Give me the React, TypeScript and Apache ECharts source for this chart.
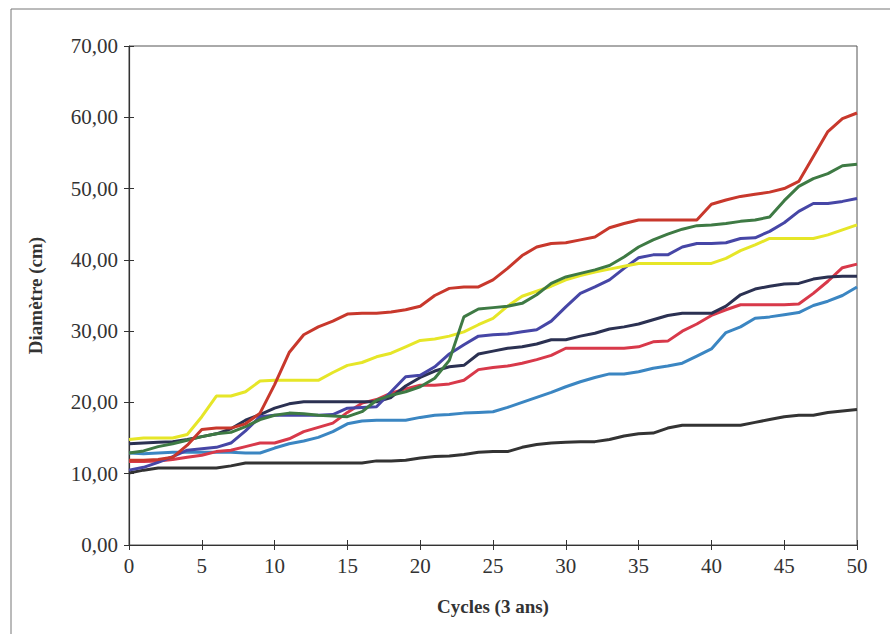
import React, { useEffect, useRef } from "react";
import * as echarts from "echarts";

const cycles: number[] = Array.from({ length: 51 }, (_, i) => i);

const redDark = [11.9,11.9,12.0,12.3,14.0,16.2,16.4,16.4,17.0,18.5,22.5,27.0,29.5,30.6,31.4,32.4,32.5,32.5,32.7,33.0,33.5,35.0,36.0,36.2,36.2,37.2,38.8,40.6,41.8,42.3,42.4,42.8,43.2,44.5,45.1,45.6,45.6,45.6,45.6,45.6,47.8,48.4,48.9,49.2,49.5,50.0,51.0,54.5,58.0,59.8,60.6];
const yellow = [14.8,15.0,15.0,15.0,15.5,18.0,20.9,20.9,21.5,23.0,23.1,23.1,23.1,23.1,24.2,25.2,25.6,26.4,26.9,27.8,28.7,28.9,29.3,29.9,30.9,31.8,33.5,34.9,35.6,36.3,37.2,37.8,38.3,38.7,39.1,39.5,39.5,39.5,39.5,39.5,39.5,40.2,41.3,42.1,43.0,43.0,43.0,43.0,43.5,44.2,44.9];
const green = [12.9,13.2,13.8,14.2,14.7,15.2,15.6,15.8,16.6,17.6,18.2,18.5,18.4,18.2,18.1,18.0,18.7,20.3,21.0,21.5,22.2,23.4,25.9,32.0,33.1,33.3,33.5,33.9,35.1,36.7,37.6,38.1,38.6,39.2,40.4,41.8,42.8,43.6,44.3,44.8,44.9,45.1,45.4,45.6,46.0,48.3,50.3,51.4,52.1,53.2,53.4];
const blue = [10.5,10.9,11.6,12.4,13.3,13.5,13.7,14.3,16.0,18.0,18.2,18.2,18.2,18.2,18.3,19.2,19.3,19.4,21.5,23.6,23.8,25.0,26.8,28.1,29.3,29.5,29.6,29.9,30.2,31.4,33.4,35.3,36.2,37.2,38.8,40.3,40.7,40.7,41.8,42.3,42.3,42.4,43.0,43.1,44.0,45.2,46.8,47.9,47.9,48.2,48.6];
const navy = [14.2,14.3,14.4,14.5,14.8,15.2,15.6,16.3,17.5,18.3,19.2,19.8,20.1,20.1,20.1,20.1,20.1,20.1,20.7,22.3,23.5,24.4,25.0,25.2,26.8,27.2,27.6,27.8,28.2,28.8,28.8,29.3,29.7,30.3,30.6,31.0,31.6,32.2,32.5,32.5,32.5,33.5,35.1,35.9,36.3,36.6,36.7,37.3,37.6,37.7,37.7];
const pink = [11.7,11.7,11.8,12.0,12.3,12.6,13.1,13.3,13.8,14.3,14.3,14.9,15.9,16.5,17.1,18.6,19.9,20.4,21.3,21.9,22.4,22.4,22.6,23.1,24.6,24.9,25.1,25.5,26.0,26.6,27.6,27.6,27.6,27.6,27.6,27.8,28.5,28.6,30.0,31.0,32.2,33.0,33.7,33.7,33.7,33.7,33.8,35.3,37.0,38.9,39.4];
const lightBlue = [12.9,12.8,12.9,13.0,13.0,13.0,13.0,13.0,12.9,12.9,13.6,14.2,14.6,15.1,15.9,17.0,17.4,17.5,17.5,17.5,17.9,18.2,18.3,18.5,18.6,18.7,19.3,20.0,20.7,21.4,22.2,22.9,23.5,24.0,24.0,24.3,24.8,25.1,25.5,26.5,27.5,29.8,30.6,31.8,32.0,32.3,32.6,33.6,34.2,35.0,36.2];
const black = [10.1,10.5,10.8,10.8,10.8,10.8,10.8,11.1,11.5,11.5,11.5,11.5,11.5,11.5,11.5,11.5,11.5,11.8,11.8,11.9,12.2,12.4,12.5,12.7,13.0,13.1,13.1,13.7,14.1,14.3,14.4,14.5,14.5,14.8,15.3,15.6,15.7,16.4,16.8,16.8,16.8,16.8,16.8,17.2,17.6,18.0,18.2,18.2,18.6,18.8,19.0];

const seriesDefs = [
  { name: "Noir", data: black, color: "#333333" },
  { name: "Bleu clair", data: lightBlue, color: "#3b86c2" },
  { name: "Rose", data: pink, color: "#d8394a" },
  { name: "Marine", data: navy, color: "#2b3152" },
  { name: "Bleu", data: blue, color: "#4646a6" },
  { name: "Jaune", data: yellow, color: "#e6e628" },
  { name: "Vert", data: green, color: "#3e7a44" },
  { name: "Rouge", data: redDark, color: "#c8382c" },
];

const font = "Liberation Serif";

export default function App() {
  const ref = useRef<HTMLDivElement>(null);
  useEffect(() => {
    if (!ref.current) return;
    const chart = echarts.init(ref.current, undefined, { renderer: "svg" });
    const fmt = (v: number) => v.toFixed(2).replace(".", ",");
    const grid = { left: 129, right: 33, top: 46, bottom: 89, show: true, borderColor: "#555", borderWidth: 1, backgroundColor: "transparent" };
    chart.setOption({
      animation: false,
      backgroundColor: "#fff",
      graphic: [
        { type: "rect", shape: { x: 11, y: 9, width: 900, height: 700 }, style: { fill: "none", stroke: "#777", lineWidth: 1 }, silent: true },
      ],
      grid,
      xAxis: [
        {
          type: "value", min: 0, max: 50, interval: 5,
          name: "Cycles (3 ans)", nameLocation: "middle", nameGap: 52,
          nameTextStyle: { fontFamily: font, fontWeight: "bold", fontSize: 19, color: "#333" },
          axisLine: { lineStyle: { color: "#333", width: 1.2 } },
          axisTick: { show: true, length: 5, lineStyle: { color: "#333" } },
          axisLabel: { fontFamily: font, fontSize: 21, color: "#333", margin: 10 },
          splitLine: { show: false },
        },
        {
          type: "value", min: 0, max: 50, interval: 5, position: "bottom",
          axisLine: { show: false },
          axisTick: { show: true, inside: true, length: 5, lineStyle: { color: "#333" } },
          axisLabel: { show: false },
          splitLine: { show: false },
        },
      ],
      yAxis: [
        {
          type: "value", min: 0, max: 70, interval: 10,
          name: "Diamètre (cm)", nameLocation: "middle", nameGap: 84, nameRotate: 90,
          nameTextStyle: { fontFamily: font, fontWeight: "bold", fontSize: 19, color: "#333" },
          axisLine: { show: true, lineStyle: { color: "#333", width: 1.2 } },
          axisTick: { show: true, length: 5, lineStyle: { color: "#333" } },
          axisLabel: { fontFamily: font, fontSize: 21, color: "#333", margin: 11, formatter: fmt },
          splitLine: { show: false },
        },
        {
          type: "value", min: 0, max: 70, interval: 10, position: "left",
          axisLine: { show: false },
          axisTick: { show: true, inside: true, length: 5, lineStyle: { color: "#333" } },
          axisLabel: { show: false },
          splitLine: { show: false },
        },
      ],
      series: seriesDefs.map((s) => ({
        name: s.name,
        type: "line",
        xAxisIndex: 0,
        yAxisIndex: 0,
        data: s.data.map((v, i) => [cycles[i], v]),
        showSymbol: false,
        symbol: "none",
        lineStyle: { color: s.color, width: 3 },
        itemStyle: { color: s.color },
      })),
    });
    return () => chart.dispose();
  }, []);
  return <div ref={ref} style={{ position: "fixed", left: 0, top: 0, width: 890, height: 634 }} />;
}
